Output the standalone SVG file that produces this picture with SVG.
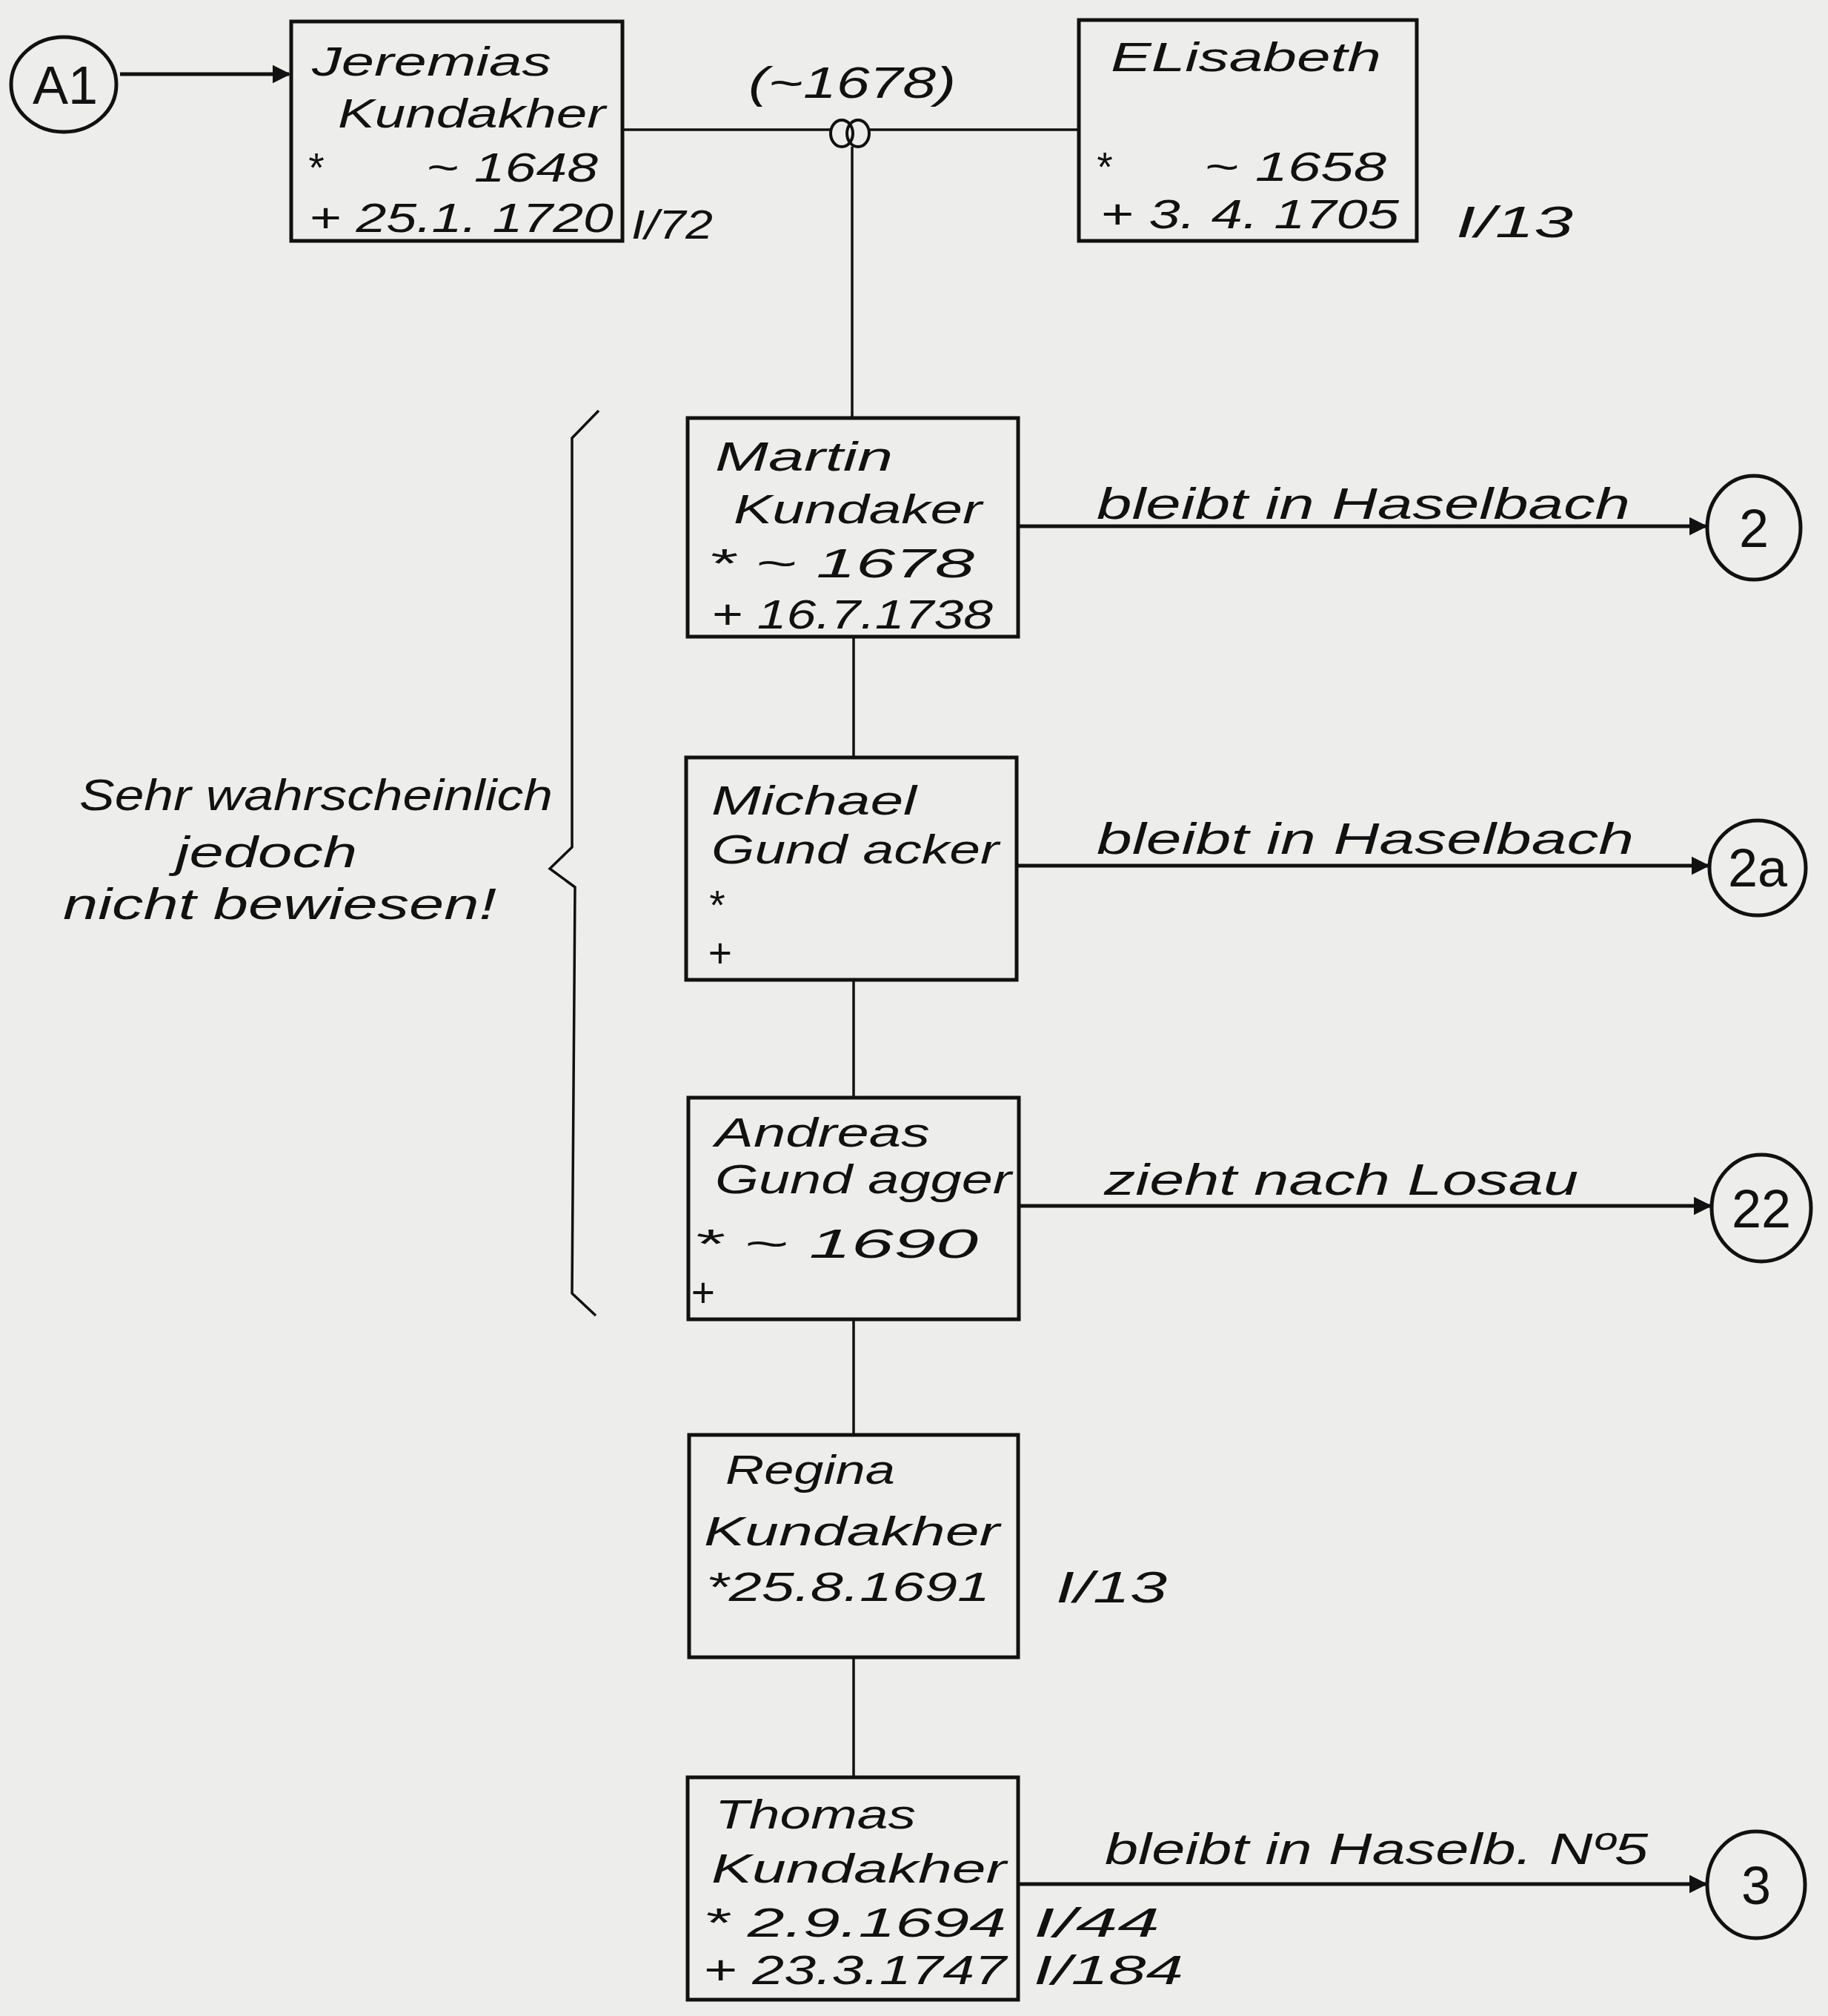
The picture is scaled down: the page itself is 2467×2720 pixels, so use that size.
<svg xmlns="http://www.w3.org/2000/svg" width="2467" height="2720" viewBox="0 0 2467 2720">
<style>
.bg{fill:#ededeb}
.box{fill:none;stroke:#111;stroke-width:5}
.ring{fill:none;stroke:#111;stroke-width:4}
.conn{fill:none;stroke:#111;stroke-width:3.5}
.arr{fill:none;stroke:#111;stroke-width:5}
.t{font-family:"Liberation Sans","DejaVu Sans",sans-serif;font-style:italic;font-size:55px;fill:#111}
.l{font-family:"Liberation Sans","DejaVu Sans",sans-serif;font-style:italic;font-size:60px;fill:#111}
.c{font-family:"Liberation Sans","DejaVu Sans",sans-serif;font-size:72px;fill:#111;text-anchor:middle}
</style>
<defs>
<marker id="ah" viewBox="0 0 10 10" refX="9" refY="5" markerWidth="5" markerHeight="5" orient="auto" markerUnits="strokeWidth">
<path d="M0,0 L10,5 L0,10 z" fill="#111"/>
</marker>
</defs>
<rect class="bg" x="0" y="0" width="2467" height="2720"/>

<g id="connectors">
<line class="arr" x1="162" y1="100" x2="390" y2="100" marker-end="url(#ah)"/>
<line class="conn" x1="842" y1="175" x2="1121" y2="175"/>
<line class="conn" x1="1173" y1="175" x2="1456" y2="175"/>
<line class="conn" x1="1150" y1="198" x2="1150" y2="564"/>
<line class="conn" x1="1152" y1="859" x2="1152" y2="1022"/>
<line class="conn" x1="1152" y1="1322" x2="1152" y2="1482"/>
<line class="conn" x1="1152" y1="1780" x2="1152" y2="1938"/>
<line class="conn" x1="1152" y1="2236" x2="1152" y2="2399"/>
<line class="arr" x1="1376" y1="710" x2="2302" y2="710" marker-end="url(#ah)"/>
<line class="arr" x1="1374" y1="1168" x2="2305" y2="1168" marker-end="url(#ah)"/>
<line class="arr" x1="1376" y1="1627" x2="2308" y2="1627" marker-end="url(#ah)"/>
<line class="arr" x1="1376" y1="2542" x2="2302" y2="2542" marker-end="url(#ah)"/>
<text class="l" x="1480" y="700" textLength="720" lengthAdjust="spacingAndGlyphs">bleibt in Haselbach</text>
<text class="l" x="1480" y="1152" textLength="725" lengthAdjust="spacingAndGlyphs">bleibt in Haselbach</text>
<text class="l" x="1490" y="1612" textLength="640" lengthAdjust="spacingAndGlyphs">zieht nach Losau</text>
<text class="l" x="1491" y="2515" textLength="733" lengthAdjust="spacingAndGlyphs">bleibt in Haselb. Nº5</text>
<text class="l" x="1010" y="132" textLength="280" lengthAdjust="spacingAndGlyphs">(~1678)</text>
</g>

<g id="rings">
<ellipse class="ring" cx="1136" cy="180" rx="15" ry="18"/>
<ellipse class="ring" cx="1158" cy="180" rx="15" ry="18"/>
</g>

<g id="A1">
<ellipse class="box" cx="86" cy="114" rx="71" ry="64"/>
<text class="c" x="88" y="140">A1</text>
</g>

<g id="jeremias">
<rect class="box" x="393" y="29" width="447" height="296"/>
<text class="t" x="421" y="102" textLength="323" lengthAdjust="spacingAndGlyphs">Jeremias</text>
<text class="t" x="456" y="172" textLength="361" lengthAdjust="spacingAndGlyphs">Kundakher</text>
<text class="t" x="414" y="245">*</text>
<text class="t" x="575" y="245" textLength="232" lengthAdjust="spacingAndGlyphs">~ 1648</text>
<text class="t" x="417" y="313" textLength="411" lengthAdjust="spacingAndGlyphs">+ 25.1. 1720</text>
<text class="t" x="852" y="322" textLength="110" lengthAdjust="spacingAndGlyphs">I/72</text>
</g>

<g id="elisabeth">
<rect class="box" x="1456" y="27" width="456" height="298"/>
<text class="t" x="1499" y="96" textLength="365" lengthAdjust="spacingAndGlyphs">ELisabeth</text>
<text class="t" x="1478" y="244">*</text>
<text class="t" x="1625" y="244" textLength="246" lengthAdjust="spacingAndGlyphs">~ 1658</text>
<text class="t" x="1485" y="308" textLength="403" lengthAdjust="spacingAndGlyphs">+ 3. 4. 1705</text>
<text class="l" x="1965" y="320" textLength="158" lengthAdjust="spacingAndGlyphs">I/13</text>
</g>

<g id="martin">
<rect class="box" x="928" y="564" width="446" height="295"/>
<text class="t" x="965" y="635" textLength="240" lengthAdjust="spacingAndGlyphs">Martin</text>
<text class="t" x="990" y="706" textLength="335" lengthAdjust="spacingAndGlyphs">Kundaker</text>
<text class="t" x="955" y="779" textLength="360" lengthAdjust="spacingAndGlyphs">* ~  1678</text>
<text class="t" x="960" y="848" textLength="380" lengthAdjust="spacingAndGlyphs">+ 16.7.1738</text>
</g>

<g id="michael">
<rect class="box" x="926" y="1022" width="446" height="300"/>
<text class="t" x="960" y="1099" textLength="277" lengthAdjust="spacingAndGlyphs">Michael</text>
<text class="t" x="960" y="1165" textLength="388" lengthAdjust="spacingAndGlyphs">Gund acker</text>
<text class="t" x="955" y="1240">*</text>
<text class="t" x="955" y="1305">+</text>
</g>

<g id="andreas">
<rect class="box" x="929" y="1481" width="446" height="299"/>
<text class="t" x="965" y="1547" textLength="290" lengthAdjust="spacingAndGlyphs">Andreas</text>
<text class="t" x="965" y="1610" textLength="400" lengthAdjust="spacingAndGlyphs">Gund agger</text>
<text class="t" x="935" y="1697" textLength="385" lengthAdjust="spacingAndGlyphs">* ~   1690</text>
<text class="t" x="932" y="1763">+</text>
</g>

<g id="regina">
<rect class="box" x="930" y="1936" width="444" height="300"/>
<text class="t" x="979" y="2002" textLength="229" lengthAdjust="spacingAndGlyphs">Regina</text>
<text class="t" x="950" y="2085" textLength="399" lengthAdjust="spacingAndGlyphs">Kundakher</text>
<text class="t" x="953" y="2160" textLength="383" lengthAdjust="spacingAndGlyphs">*25.8.1691</text>
<text class="l" x="1425" y="2162" textLength="150" lengthAdjust="spacingAndGlyphs">I/13</text>
</g>

<g id="thomas">
<rect class="box" x="928" y="2398" width="446" height="300"/>
<text class="t" x="965" y="2467" textLength="271" lengthAdjust="spacingAndGlyphs">Thomas</text>
<text class="t" x="960" y="2540" textLength="398" lengthAdjust="spacingAndGlyphs">Kundakher</text>
<text class="t" x="949" y="2613" textLength="409" lengthAdjust="spacingAndGlyphs">* 2.9.1694</text>
<text class="t" x="949" y="2677" textLength="409" lengthAdjust="spacingAndGlyphs">+ 23.3.1747</text>
<text class="t" x="1395" y="2613" textLength="170" lengthAdjust="spacingAndGlyphs">I/44</text>
<text class="t" x="1395" y="2677" textLength="202" lengthAdjust="spacingAndGlyphs">I/184</text>
</g>

<g id="c2">
<ellipse class="box" cx="2367" cy="712" rx="63" ry="70"/>
<text class="c" x="2367" y="738">2</text>
</g>
<g id="c2a">
<ellipse class="box" cx="2372" cy="1171" rx="65" ry="64"/>
<text class="c" x="2372" y="1196">2a</text>
</g>
<g id="c22">
<ellipse class="box" cx="2377" cy="1630" rx="67" ry="72"/>
<text class="c" x="2377" y="1656">22</text>
</g>
<g id="c3">
<ellipse class="box" cx="2370" cy="2543" rx="66" ry="72"/>
<text class="c" x="2370" y="2569">3</text>
</g>

<g id="note">
<path class="conn" d="M808,554 L772,591 L772,1143 L742,1172 L776,1197 L772,1745 L804,1775"/>
<text class="l" x="107" y="1093" textLength="639" lengthAdjust="spacingAndGlyphs">Sehr wahrscheinlich</text>
<text class="l" x="237" y="1170" textLength="245" lengthAdjust="spacingAndGlyphs">jedoch</text>
<text class="l" x="85" y="1240" textLength="585" lengthAdjust="spacingAndGlyphs">nicht bewiesen!</text>
</g>
</svg>
